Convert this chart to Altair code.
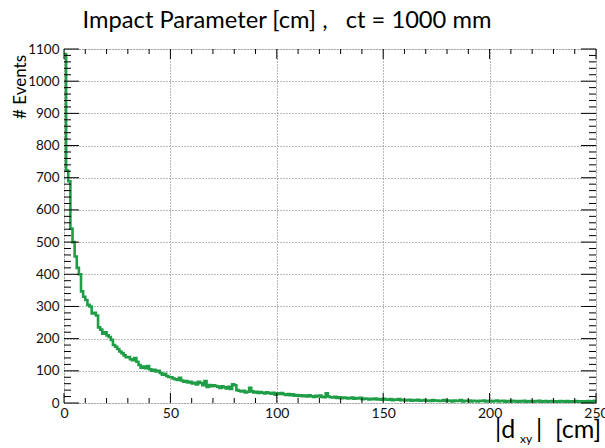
import altair as alt
import pandas as pd

# ---- data -------------------------------------------------------------
bin_width = 1.0  # cm
counts = [
    1084, 722, 689, 542, 500, 455, 420, 400, 347, 330,
    320, 305, 300, 278, 280, 272, 235, 228, 215, 220,
    210, 205, 196, 180, 175, 168, 160, 155, 148, 142,
    143, 136, 133, 140, 128, 118, 110, 113, 108, 115,
    105, 100, 103, 98, 100, 93, 88, 91, 84, 81,
    80, 76, 74, 72, 78, 70, 66, 68, 64, 66,
    61, 63, 58, 66, 62, 55, 68, 50, 56, 52,
    55, 53, 51, 47, 52, 49, 45, 50, 44, 58,
    55, 40, 38, 36, 38, 33, 35, 47, 36, 33,
    35, 31, 34, 32, 30, 33, 31, 29, 32, 26,
    30, 28, 31, 27, 25, 28, 24, 27, 23, 25,
    22, 24, 21, 23, 20, 24, 21, 19, 22, 20,
    23, 19, 18, 30, 20, 18, 17, 19, 16, 18,
    15, 17, 16, 14, 15, 17, 13, 15, 14, 16,
    12, 14, 13, 11, 13, 12, 14, 11, 12, 10,
    13, 11, 10, 12, 9, 11, 10, 12, 9, 10,
    8, 9, 10, 7, 9, 8, 10, 7, 8, 9,
    7, 8, 6, 9, 7, 8, 6, 7, 9, 6,
    8, 7, 5, 8, 6, 7, 9, 5, 7, 6,
    8, 5, 7, 6, 5, 7, 6, 8, 5, 6,
    7, 5, 6, 8, 5, 6, 7, 4, 6, 5,
    7, 5, 6, 4, 6, 5, 7, 4, 5, 6,
    4, 6, 5, 7, 4, 5, 6, 4, 5, 6,
    4, 5, 3, 6, 5, 4, 6, 3, 5, 4,
    6, 4, 5, 3, 5, 4, 6, 4, 5, 7,
]
x_ticks_major = [0, 50, 100, 150, 200, 250]
x_ticks_minor = [v for v in range(0, 251, 10) if v % 50 != 0]
y_ticks_major = [0, 100, 200, 300, 400, 500, 600, 700, 800, 900, 1000, 1100]
y_ticks_minor = [v for v in range(0, 1101, 20) if v % 100 != 0]

NB = "\u00a0"
title_text = "Impact Parameter [cm] ," + NB * 3 + "ct = 1000 mm"
y_title = "# Events"

# ---- tables ------------------------------------------------------------
edges = [i * bin_width for i in range(len(counts))] + [len(counts) * bin_width]
hist = pd.DataFrame({"x": edges, "n": counts + [counts[-1]]})
xmaj = pd.DataFrame({"v": x_ticks_major})
xmin = pd.DataFrame({"v": x_ticks_minor})
ymaj = pd.DataFrame({"v": y_ticks_major})
ymin = pd.DataFrame({"v": y_ticks_minor})

W, H = 532, 354
FONT = "Lato"
xs = alt.Scale(domain=[0, 250], nice=False, zero=False)
ys = alt.Scale(domain=[0, 1100], nice=False)

grid_dash = [1, 2]
xaxis = alt.Axis(values=x_ticks_major, title=None, tickSize=0, domain=False,
                 grid=True, gridDash=grid_dash, gridColor="#777777", gridWidth=1,
                 labelFont=FONT, labelFontSize=14, labelColor="#111111",
                 labelPadding=3, labelFlush=False, labelOverlap=False, format="d")
yaxis = alt.Axis(values=y_ticks_major, title=None, tickSize=0, domain=False,
                 grid=True, gridDash=grid_dash, gridColor="#777777", gridWidth=1,
                 labelFont=FONT, labelFontSize=13.5, labelColor="#111111",
                 labelPadding=5, labelFlush=False, labelOverlap=False, format="d")

line = alt.Chart(hist).mark_line(interpolate="step-after", color="#1f9e47",
                                 strokeWidth=2.6, clip=True).encode(
    x=alt.X("x:Q", scale=xs, axis=xaxis),
    y=alt.Y("n:Q", scale=ys, axis=yaxis),
)

def xt(df, y0, y1):
    return alt.Chart(df).mark_rule(color="black", strokeWidth=1).encode(
        x=alt.X("v:Q", scale=xs, axis=xaxis), y=alt.value(y0), y2=alt.value(y1))

def yt(df, x0, x1):
    return alt.Chart(df).mark_rule(color="black", strokeWidth=1).encode(
        y=alt.Y("v:Q", scale=ys, axis=yaxis), x=alt.value(x0), x2=alt.value(x1))

ticks = [
    xt(xmaj, H, H - 10), xt(xmin, H, H - 5),
    xt(xmaj, 0, 10), xt(xmin, 0, 5),
    yt(ymaj, 0, 15), yt(ymin, 0, 7),
    yt(ymaj, W, W - 15), yt(ymin, W, W - 7),
]

title = alt.Chart(pd.DataFrame({"t": [title_text]})).mark_text(
    font=FONT, fontSize=23.7, color="black", align="center", baseline="alphabetic"
).encode(text="t:N", x=alt.value(223), y=alt.value(-21))

ytitle = alt.Chart(pd.DataFrame({"t": [y_title]})).mark_text(
    font=FONT, fontSize=17, color="black", align="right", baseline="middle", angle=270
).encode(text="t:N", x=alt.value(-43), y=alt.value(6))

def txt(s, x, y, size, align="left"):
    return alt.Chart(pd.DataFrame({"t": [s]})).mark_text(
        font=FONT, fontSize=size, color="black", align=align, baseline="alphabetic"
    ).encode(text="t:N", x=alt.value(x), y=alt.value(y))

xtitle = [
    txt("|d", 431, 35 + H, 25),
    txt("xy", 456, 40 + H, 12),
    txt("|" + NB * 2 + "[cm]", 472, 35 + H, 25),
]

chart = alt.layer(line, *ticks, title, ytitle, *xtitle).properties(
    width=W, height=H,
    autosize=alt.AutoSizeParams(type="none"),
    padding={"left": 64, "top": 49, "right": 9, "bottom": 45},
).configure_view(stroke="black", strokeWidth=1.5).configure(background="white")

chart.save("out.html", embed_options={"renderer": "svg", "actions": False})
